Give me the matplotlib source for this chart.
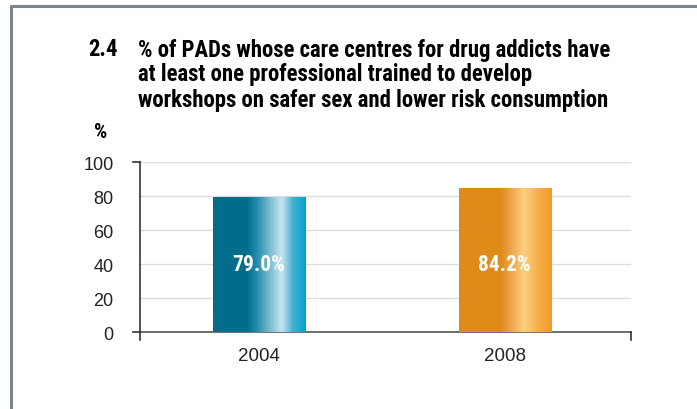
import matplotlib.pyplot as plt
import numpy as np
from matplotlib import font_manager
from matplotlib.colors import LinearSegmentedColormap
from matplotlib.lines import Line2D

years = ["2004", "2008"]
values = [79.0, 84.2]
value_labels = ["79.0%", "84.2%"]
yticks = [0, 20, 40, 60, 80, 100]
title_lines = [
    "% of PADs whose care centres for drug addicts have",
    "at least one professional trained to develop",
    "workshops on safer sex and lower risk consumption",
]

# pick a narrow face if one is installed
installed = {f.name for f in font_manager.fontManager.ttflist}
narrow_choices = ["Liberation Sans Narrow", "DejaVu Sans Condensed", "Roboto Condensed",
                  "Liberation Sans"]
NARROW = [next(n for n in narrow_choices if n in installed), "DejaVu Sans"]
SANS = ["Liberation Sans", "DejaVu Sans"]

# gradient stops for the shaded bars
blue_cmap = LinearSegmentedColormap.from_list(
    "blue",
    [(0.0, "#006d8c"), (0.36, "#006d8c"), (0.46, "#1d88a8"),
     (0.62, "#7fbdd4"), (0.74, "#c8e5f0"), (0.86, "#45b0d4"), (1.0, "#00a2cf")],
)
orange_cmap = LinearSegmentedColormap.from_list(
    "orange",
    [(0.0, "#df8a1a"), (0.45, "#df8a1a"), (0.55, "#eba448"),
     (0.7, "#fdcf7e"), (0.85, "#f7b04a"), (1.0, "#f39a22")],
)
cmaps = [blue_cmap, orange_cmap]

fig = plt.figure(figsize=(6.97, 4.10), dpi=100)
ax = fig.add_axes([140 / 697, 1 - 333 / 410, 491 / 697, 170 / 410])

bar_width = 0.375
x = np.arange(len(years)) - 0.015
gradient = np.linspace(0, 1, 256).reshape(1, -1)
bars = ax.bar(x, values, width=bar_width, color="none", zorder=3)
for bar, cmap, label in zip(bars, cmaps, value_labels):
    x0, w, h = bar.get_x(), bar.get_width(), bar.get_height()
    ax.imshow(gradient, cmap=cmap, aspect="auto", extent=(x0, x0 + w, 0, h),
              zorder=3, interpolation="bilinear")
    ax.text(x0 + w / 2, 40, label, ha="center", va="center", color="white",
            fontsize=15.5, fontweight="bold", family=NARROW, zorder=4)

ax.set_xlim(-0.5, 1.5)
ax.set_ylim(0, 100)
ax.set_yticks(yticks)
ax.set_yticklabels([str(t) for t in yticks], family=SANS, fontsize=13, color="#222222")
ax.set_xticks(x)
ax.set_xticklabels(years, family=SANS, fontsize=13.5, color="#222222")
ax.tick_params(axis="x", length=0, pad=11)
ax.tick_params(axis="y", length=0, pad=19)
ax.yaxis.grid(True, color="#dddddd", linewidth=1, zorder=0)
ax.set_axisbelow(True)
for side in ["top", "right", "left"]:
    ax.spines[side].set_visible(False)
ax.spines["bottom"].set_color("#555555")
ax.spines["bottom"].set_linewidth(1.2)

# axis line with small overhangs like the original
tr = ax.get_yaxis_transform()
for xs, ys in [([0, 0], [-4.5, 100]), ([1, 1], [-4.5, 0]),
               ([-0.015, 0], [0, 0]), ([-0.015, 0], [100, 100])]:
    ax.plot(xs, ys, transform=tr, color="#333333", linewidth=1.2,
            clip_on=False, zorder=5)

fig.text(101 / 697, 1 - 133 / 410, "%", ha="center", va="center",
         fontsize=15, fontweight="bold", family=NARROW)

# title: scale the size so the first line spans the same width as the original
renderer = fig.canvas.get_renderer()
probe = fig.text(0, 0, title_lines[0], fontsize=13.5, fontweight="bold", family=NARROW)
probe_w = probe.get_window_extent(renderer).width
probe.remove()
title_size = 13.5 * 475 / probe_w

fig.text(88 / 697, 1 - 50 / 410, "2.4", ha="left", va="center",
         fontsize=title_size, fontweight="bold", family=NARROW)
for i, line in enumerate(title_lines):
    fig.text(138 / 697, 1 - (50 + 25 * i) / 410, line, ha="left", va="center",
             fontsize=title_size, fontweight="bold", family=NARROW)

# outer frame (top and left edges)
fig.add_artist(Line2D([11 / 697, 11 / 697, 1], [0, 1 - 7 / 410, 1 - 7 / 410],
                      transform=fig.transFigure, color="#7a868c", linewidth=2.2))

fig.savefig("out.png", dpi=100)
